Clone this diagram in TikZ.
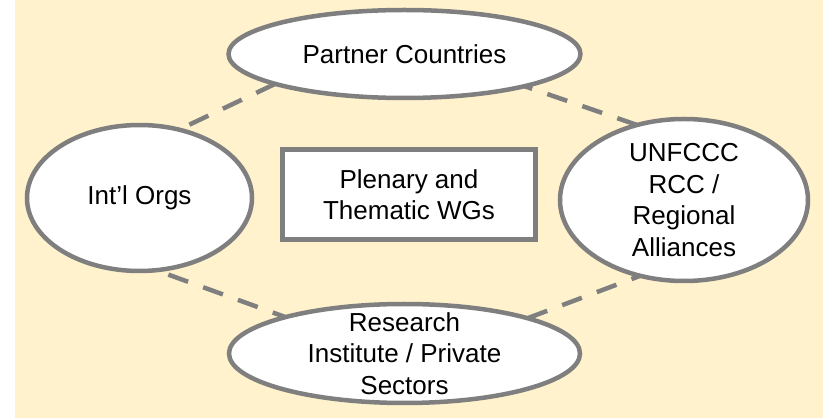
\documentclass[tikz,border=0pt]{standalone}
\usepackage{fontspec}
\setmainfont{Liberation Sans}
\usetikzlibrary{shapes.geometric}
\definecolor{bgyellow}{HTML}{FFF2CC}
\definecolor{edgegray}{HTML}{7F7F7F}

\begin{document}
\begin{tikzpicture}[x=1pt,y=1pt,
  party/.style={ellipse,draw=edgegray,line width=4.5pt,fill=white,inner sep=0pt,outer sep=0pt},
  partytext/.style={align=center,inner sep=0pt,font=\fontsize{26}{31.5}\selectfont},
  link/.style={draw=edgegray,line width=4.5pt,dash pattern=on 21pt off 16pt}]
  \useasboundingbox (0,0) rectangle (823,418);
  \fill[bgyellow] (15,0) rectangle (823,418);

  \node[party,minimum width=352pt,minimum height=88pt] (partner) at (404.5,364) {};
  \node[partytext] (partner-t) at (partner) {Partner Countries};

  \node[party,minimum width=225pt,minimum height=146pt] (intl) at (139.5,220) {};
  \node[partytext] (intl-t) at (intl) {Int’l Orgs};

  \node[party,minimum width=248pt,minimum height=162pt] (unfccc) at (684,218) {};
  \node[partytext] (unfccc-t) at (unfccc) {UNFCCC\\RCC /\\Regional\\Alliances};

  \node[party,minimum width=351pt,minimum height=99pt] (research) at (404.5,64.5) {};
  \node[partytext] (research-t) at (research) {Research\\Institute / Private\\Sectors};

  \node[draw=edgegray,line width=5pt,fill=white,minimum width=253pt,minimum height=90pt,partytext] (plenary) at (409,223.5) {Plenary and\\Thematic WGs};

  \draw[link] (partner.193) -- (intl.60);
  \draw[link] (unfccc.122) -- (partner.345);
  \draw[link,dash phase=24pt] (intl.283) -- (research.163);
  \draw[link] (research.16) -- (unfccc.240);
\end{tikzpicture}
\end{document}
